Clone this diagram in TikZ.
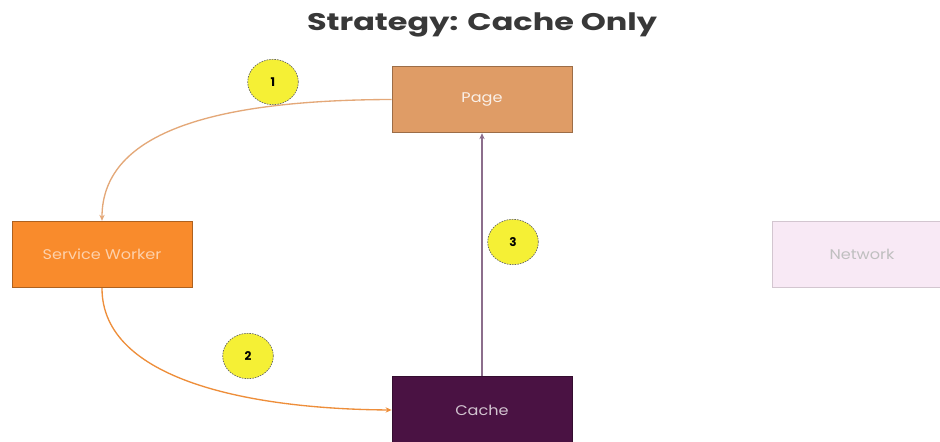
\documentclass[tikz,border=0pt]{standalone}
\usepackage{fontspec}
\setmainfont{Poppins}
\usetikzlibrary{arrows.meta,shapes.geometric}
\definecolor{pagec}{HTML}{DF9C66}
\definecolor{swc}{HTML}{F98B2C}
\definecolor{netc}{HTML}{F8E9F5}
\definecolor{cachec}{HTML}{4A1243}
\definecolor{numc}{HTML}{F5F035}
\definecolor{arrA}{HTML}{E4A878}
\definecolor{arrB}{HTML}{EE8E3A}
\definecolor{arrC}{HTML}{8C6E8C}
\begin{document}
\begin{tikzpicture}[x=0.75pt,y=-0.75pt,
  box/.style={draw=#1!70!black, line width=0.6pt, minimum width=135pt, minimum height=50pt, inner sep=0pt, font=\fontsize{10.5}{12}\selectfont},
  num/.style={ellipse, draw=black!60, dash pattern=on 1.2pt off 0.8pt, line width=0.5pt, fill=numc, minimum width=38pt, minimum height=34pt, inner sep=0pt, font=\bfseries\fontsize{9}{10}\selectfont},
  conn/.style={line width=1pt, -{Stealth[length=4.5pt,width=4pt]}}
]
\useasboundingbox (0,0) rectangle (940,442);
\fill[white] (0,0) rectangle (940,442);
\node[font=\bfseries\fontsize{18}{21}\selectfont, text=black!78] (title) at (482,25) {\scalebox{1.33}[1]{Strategy: Cache Only}};
\node[box=pagec, fill=pagec, text=white!85!pagec] (page) at (482,99.5) {\scalebox{1.15}[1]{Page}};
\node[box=swc, fill=swc, text=white!60!swc] (sw) at (102,254.5) {\scalebox{1.15}[1]{Service Worker}};
\node[box=netc, fill=netc, text=black!25, draw=netc!85!black] (net) at (862,254.5) {\scalebox{1.15}[1]{Network}};
\node[box=cachec, fill=cachec, text=white!75!cachec] (cache) at (482,410) {\scalebox{1.15}[1]{Cache}};
\draw[conn, arrA] (page.west) .. controls (220,100) and (102,130) .. (sw.north);
\draw[conn, arrB] (sw.south) .. controls (102,380) and (250,409) .. (cache.west);
\draw[conn, arrC] (cache.north) -- (page.south);
\node[num] (n1) at (273,82) {1};
\node[num] (n2) at (248,356) {2};
\node[num] (n3) at (513,242) {3};
\end{tikzpicture}
\end{document}
